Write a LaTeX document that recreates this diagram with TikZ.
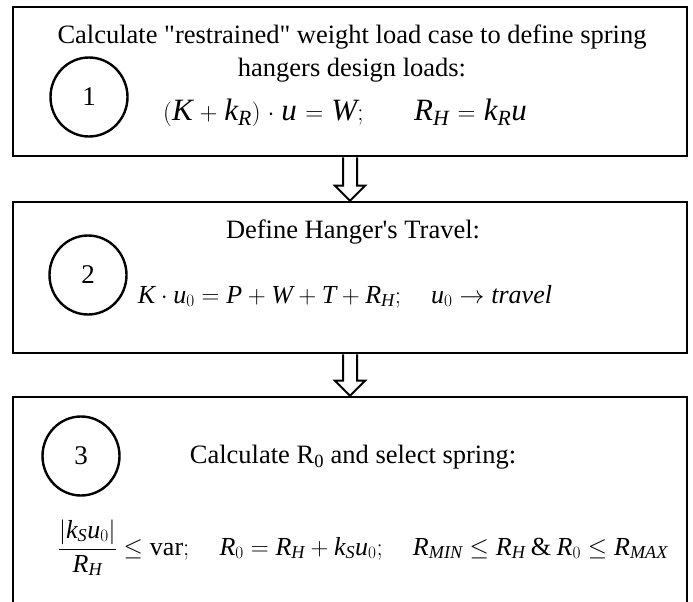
\documentclass[tikz,border=0pt]{standalone}
\usepackage{fontspec}
\setmainfont{Liberation Serif}[Ligatures=TeXOff]
\DeclareSymbolFont{operators}{TU}{\rmdefault}{m}{n}
\DeclareSymbolFont{letters}{TU}{\rmdefault}{m}{it}
\usetikzlibrary{shapes.geometric,calc}
\begin{document}
\begin{tikzpicture}[x=1pt,y=-1pt,
    stepbox/.style={draw,line width=2.6pt,rectangle,minimum width=674pt,inner sep=0pt},
    numring/.style={draw,line width=2.4pt,ellipse,minimum width=77pt,minimum height=79pt,inner sep=0pt,font=\fontsize{27}{30}\selectfont},
    txt/.style={font=\fontsize{26.5}{33}\selectfont,align=center,inner sep=0pt},
    eqn/.style={inner sep=0pt,anchor=base}]
    \useasboundingbox (0,0) rectangle (693,602);
    \node[stepbox,minimum height=149pt] (box1) at (350,81.5) {};
    \node[stepbox,minimum height=151pt] (box2) at (350,277.5) {};
    \node[stepbox,minimum height=228pt] (box3) at (350,511) {};

    \node[numring] (c1) at (89,97) {1};
    \node[numring] (c2) at (88,275) {2};
    \node[numring] (c3) at (81,456) {3};

    \node[txt] (t1) at (352,53.5) {Calculate "restrained" weight load case to define spring\\hangers design loads:};
    \node[eqn,font=\fontsize{31}{34}\selectfont] (e1) at (345,120) {\medmuskip=5mu\thickmuskip=6mu$(K+k_R)\cdot u=W;\quad\hspace{.5em}R_H=k_Ru$};

    \node[txt] (t2) at (353,232) {Define Hanger's Travel:};
    \node[eqn,font=\fontsize{26}{30}\selectfont] (e2) at (345,303) {$K\cdot u_0=P+W+T+R_H;\quad u_0\to travel$};

    \node[txt] (t3) at (353,457) {Calculate R\textsubscript{0} and select spring:};
    \node[eqn,font=\fontsize{26}{30}\selectfont] (e3) at (363,555) {$\displaystyle\frac{\left|k_Su_0\right|}{R_H}\le\mathrm{var};\quad R_0=R_H+k_Su_0;\quad R_{MIN}\le R_H\mathbin{\&}R_0\le R_{MAX}$};

    \foreach \a/\b in {box1/box2,box2/box3}
      \draw[line width=2pt,line join=miter] ($(\a.south)+(-7,0)$) -- ($(\b.north)+(-7,-15)$) -- ($(\b.north)+(-15,-15)$) -- (\b.north)
        -- ($(\b.north)+(15,-15)$) -- ($(\b.north)+(7,-15)$) -- ($(\a.south)+(7,0)$);
\end{tikzpicture}
\end{document}
